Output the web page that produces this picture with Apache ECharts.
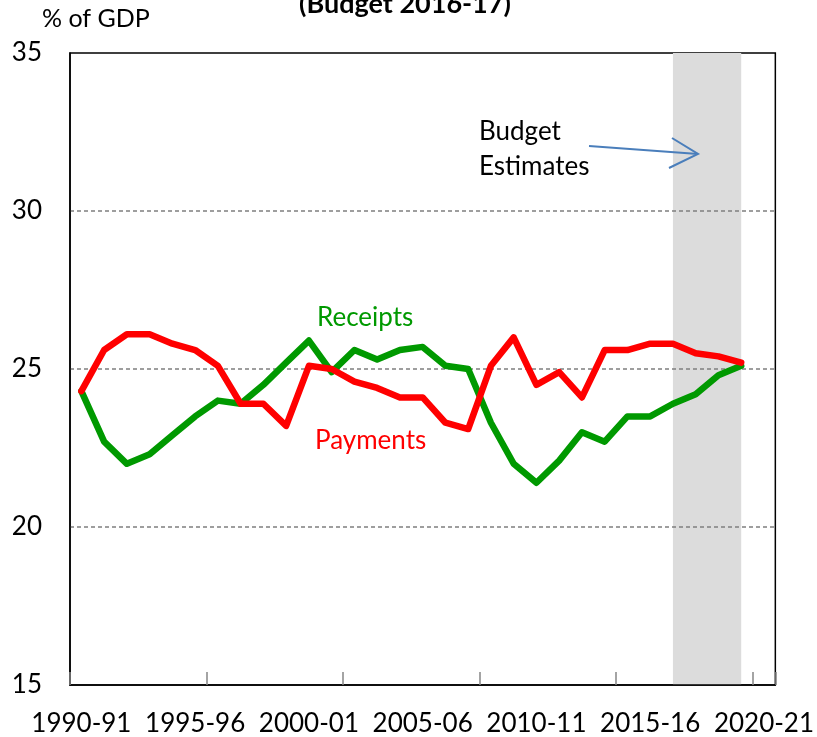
<!DOCTYPE html>
<html lang="en">
<head>
<meta charset="UTF-8">
<title>Receipts and Payments (Budget 2016-17)</title>
<script src="https://cdn.jsdelivr.net/npm/echarts@6/dist/echarts.min.js"></script>
<style>
    html, body { margin: 0; padding: 0; background: #fff; }
    #chart { width: 817px; height: 737px; }
</style>
</head>
<body>
<div id="chart"></div>
<script>
    // financial years on the category axis (last one is empty, like the original)
    var years = ['1990-91', '1991-92', '1992-93', '1993-94', '1994-95', '1995-96', '1996-97',
        '1997-98', '1998-99', '1999-00', '2000-01', '2001-02', '2002-03', '2003-04', '2004-05',
        '2005-06', '2006-07', '2007-08', '2008-09', '2009-10', '2010-11', '2011-12', '2012-13',
        '2013-14', '2014-15', '2015-16', '2016-17', '2017-18', '2018-19', '2019-20', '2020-21'];

    // % of GDP
    var receipts = [24.3, 22.7, 22.0, 22.3, 22.9, 23.5, 24.0, 23.9, 24.5, 25.2,
        25.9, 24.9, 25.6, 25.3, 25.6, 25.7, 25.1, 25.0, 23.3, 22.0,
        21.4, 22.1, 23.0, 22.7, 23.5, 23.5, 23.9, 24.2, 24.8, 25.1];
    var payments = [24.3, 25.6, 26.1, 26.1, 25.8, 25.6, 25.1, 23.9, 23.9, 23.2,
        25.1, 25.0, 24.6, 24.4, 24.1, 24.1, 23.3, 23.1, 25.1, 26.0,
        24.5, 24.9, 24.1, 25.6, 25.6, 25.8, 25.8, 25.5, 25.4, 25.2];

    var yTicks = [15, 20, 25, 30, 35];
    var budgetYears = ['2016-17', '2019-20'];

    var FONT = 'Lato';
    var chart = echarts.init(document.getElementById('chart'));

    var option = {
        animation: false,
        textStyle: {fontFamily: FONT},
        title: [{
            text: '(Budget 2016-17)',
            left: 294,
            top: -14,
            textStyle: {fontFamily: FONT, fontSize: 27, fontWeight: 'bold', color: '#000'}
        }, {
            text: '% of GDP',
            left: 42,
            top: 6,
            padding: 0,
            textStyle: {fontFamily: FONT, fontSize: 25, fontWeight: 'normal', color: '#000'}
        }],
        grid: {
            left: 70, right: 40, top: 53, bottom: 51,
            show: true, borderColor: '#000', borderWidth: 1.5, backgroundColor: 'transparent'
        },
        xAxis: {
            type: 'category',
            data: years,
            boundaryGap: true,
            z: 3,
            axisLine: {lineStyle: {color: '#000', width: 1.5}},
            axisTick: {show: true, inside: true, length: 13, interval: 5, lineStyle: {color: '#868686', width: 1.5}},
            axisLabel: {interval: 4, margin: 26, color: '#000', fontSize: 26, fontFamily: FONT},
            splitLine: {show: false}
        },
        yAxis: {
            type: 'value',
            min: yTicks[0],
            max: yTicks[yTicks.length - 1],
            interval: yTicks[1] - yTicks[0],
            z: 2,
            axisLine: {show: true, lineStyle: {color: '#000', width: 1.5}},
            axisTick: {show: false},
            axisLabel: {margin: 28, color: '#000', fontSize: 26, fontFamily: FONT},
            splitLine: {
                show: true, showMinLine: false, showMaxLine: false,
                lineStyle: {color: '#7f7f7f', width: 1.5, type: [4, 3]}
            }
        },
        series: [{
            // shaded budget estimate years
            type: 'line',
            data: [],
            silent: true,
            z: 1,
            markArea: {
                silent: true,
                itemStyle: {color: '#dcdcdc'},
                data: [[{xAxis: budgetYears[0]}, {xAxis: budgetYears[1]}]]
            }
        }, {
            name: 'Receipts',
            type: 'line',
            data: receipts,
            z: 4,
            showSymbol: false,
            lineStyle: {color: '#009900', width: 6.5, join: 'round', cap: 'round'}
        }, {
            name: 'Payments',
            type: 'line',
            data: payments,
            z: 5,
            showSymbol: false,
            lineStyle: {color: '#ff0000', width: 6.5, join: 'round', cap: 'round'}
        }],
        graphic: [{
            type: 'text', left: 317, top: 305, z: 10,
            style: {text: 'Receipts', fill: '#009900', font: '26px ' + FONT}
        }, {
            type: 'text', left: 315, top: 428, z: 10,
            style: {text: 'Payments', fill: '#ff0000', font: '26px ' + FONT}
        }, {
            type: 'text', left: 479, top: 114, z: 10,
            style: {text: 'Budget\nEstimates', fill: '#000', font: '26px ' + FONT, lineHeight: 35}
        }, {
            type: 'polyline', z: 10,
            shape: {points: [[589, 146], [698, 154]]},
            style: {stroke: '#4a7ebb', lineWidth: 2, fill: null}
        }, {
            type: 'polyline', z: 10,
            shape: {points: [[672, 138], [698, 154], [669, 168]]},
            style: {stroke: '#4a7ebb', lineWidth: 2, fill: null}
        }]
    };

    chart.setOption(option);
</script>
</body>
</html>
